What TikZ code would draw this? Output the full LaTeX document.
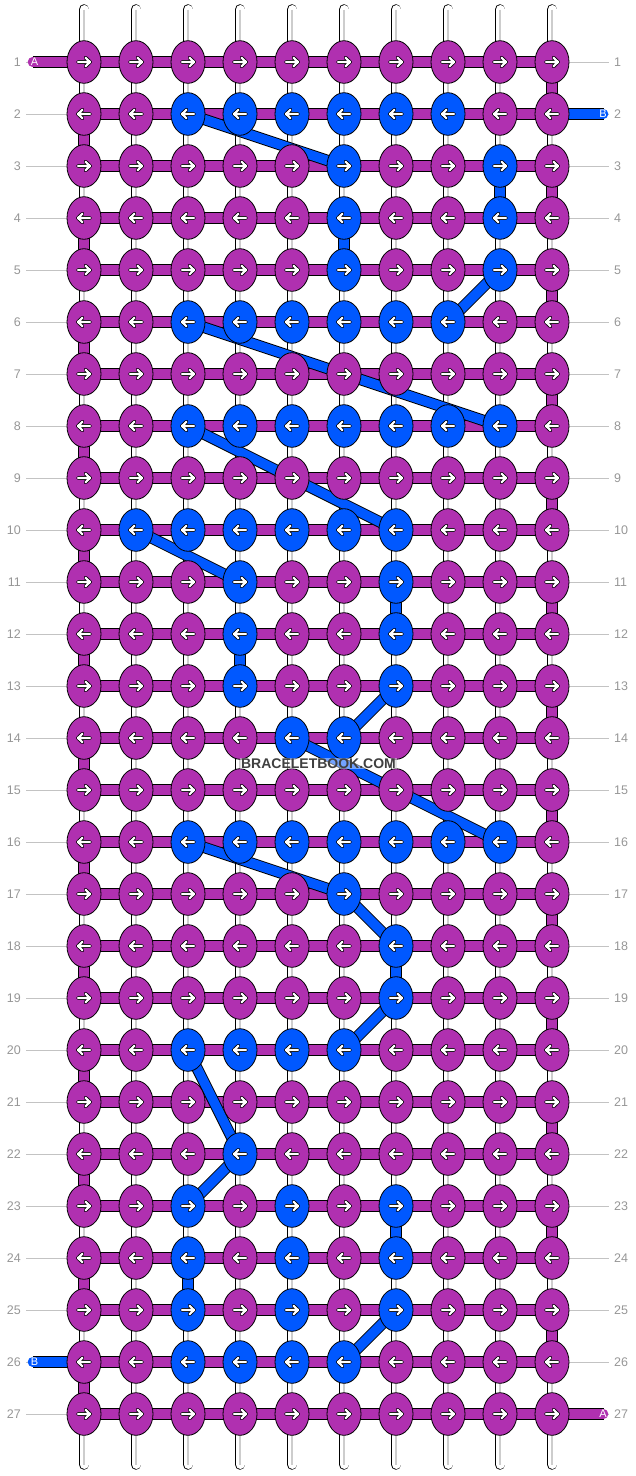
\documentclass[tikz,border=0pt]{standalone}
\usepackage{fontspec}
\setmainfont{Liberation Sans}
\usetikzlibrary{shapes.geometric,backgrounds}

\definecolor{knotP}{RGB}{176,48,176}
\definecolor{knotB}{RGB}{0,88,255}
\definecolor{numgray}{RGB}{150,150,150}
\definecolor{guidegray}{RGB}{195,195,195}
\definecolor{stampgray}{RGB}{64,64,64}
\definecolor{stripe}{RGB}{205,205,205}

% white arrow with black rim at (#1,#2), #3 = 1 (right) or -1 (left)
\newcommand{\knotarrow}[3]{%
  \foreach \w/\col in {3.8/black,2.2/white}
    \draw[draw=\col,line width=\w pt,line cap=round,line join=round]
      ({#1-6*#3},#2) -- ({#1+6*#3},#2)
      ({#1+1.6*#3},{#2-4.2}) -- ({#1+6*#3},#2) -- ({#1+1.6*#3},{#2+4.2});}

\begin{document}
\begin{tikzpicture}[x=1pt,y=-1pt,
  knot/.style={ellipse,draw=black,line width=0.8pt,minimum width=34pt,minimum height=42.6pt,inner sep=0pt},
  rownum/.style={text=numgray,font=\fontsize{12.5}{15}\selectfont,inner ysep=0pt,inner xsep=5pt},
  guide/.style={draw=guidegray,line width=1pt},
  base/.style={draw=white,line width=9pt,line cap=round,
    preaction={draw=black,line width=10.6pt,line cap=round},
    postaction={draw=stripe,line width=2pt,line cap=butt}},
  band/.style={draw=knotP,line width=9.6pt,preaction={draw=black,line width=11.4pt}},
  pill/.style={band,line cap=round},
  endtag/.style={text=white,font=\fontsize{11}{12}\selectfont,inner sep=0pt},
  stamp/.style={text=stampgray,font=\bfseries\fontsize{14}{16}\selectfont,
    fill=white,fill opacity=0.45,text opacity=1,inner sep=0.8pt}]

  \useasboundingbox (0,0) rectangle (636,1476);

  % knots, row by row (P = purple, B = blue)
  \foreach \r/\cols in {
    1/{P,P,P,P,P,P,P,P,P,P},
    2/{P,P,B,B,B,B,B,B,P,P},
    3/{P,P,P,P,P,B,P,P,B,P},
    4/{P,P,P,P,P,B,P,P,B,P},
    5/{P,P,P,P,P,B,P,P,B,P},
    6/{P,P,B,B,B,B,B,B,P,P},
    7/{P,P,P,P,P,P,P,P,P,P},
    8/{P,P,B,B,B,B,B,B,B,P},
    9/{P,P,P,P,P,P,P,P,P,P},
    10/{P,B,B,B,B,B,B,P,P,P},
    11/{P,P,P,B,P,P,B,P,P,P},
    12/{P,P,P,B,P,P,B,P,P,P},
    13/{P,P,P,B,P,P,B,P,P,P},
    14/{P,P,P,P,B,B,P,P,P,P},
    15/{P,P,P,P,P,P,P,P,P,P},
    16/{P,P,B,B,B,B,B,B,B,P},
    17/{P,P,P,P,P,B,P,P,P,P},
    18/{P,P,P,P,P,P,B,P,P,P},
    19/{P,P,P,P,P,P,B,P,P,P},
    20/{P,P,B,B,B,B,P,P,P,P},
    21/{P,P,P,P,P,P,P,P,P,P},
    22/{P,P,P,B,P,P,P,P,P,P},
    23/{P,P,B,P,B,P,B,P,P,P},
    24/{P,P,B,P,B,P,B,P,P,P},
    25/{P,P,B,P,B,P,B,P,P,P},
    26/{P,P,B,B,B,B,P,P,P,P},
    27/{P,P,P,P,P,P,P,P,P,P}}{
    \pgfmathtruncatemacro{\d}{1-2*mod(\r+1,2)}
    \pgfmathsetmacro{\ky}{10+52*\r}
    \foreach \k [count=\c] in \cols {
      \pgfmathsetmacro{\kx}{32+52*\c}
      \node[knot,fill=knot\k] (k-\r-\c) at (\kx,\ky) {};
      \knotarrow{\kx}{\ky}{\d}
    }
    \node[rownum,anchor=east] (ll-\r) at (26,\ky) {\r};
    \node[rownum,anchor=west] (rl-\r) at (609,\ky) {\r};
  }

  % loose ends
  \coordinate (end-1) at (32.5,62);
  \coordinate (end-2) at (603.5,114);
  \coordinate (end-26) at (32.5,1362);
  \coordinate (end-27) at (603.5,1414);
  \node[endtag] (tag-1) at ([xshift=2pt]end-1) {A};
  \node[endtag] (tag-2) at ([xshift=-0.5pt]end-2) {B};
  \node[endtag] (tag-26) at ([xshift=2pt]end-26) {B};
  \node[endtag] (tag-27) at ([xshift=-0.5pt]end-27) {A};

  \node[stamp] (site) at (318.5,763.5) {BRACELETBOOK.COM};

  \begin{scope}[on background layer]
    \foreach \r in {1,...,27}
      \draw[guide] (ll-\r.east) -- (rl-\r.west);
    % base strings
    \foreach \c in {1,...,10}{
      \coordinate (top-\c) at ({32+52*\c},9.5);
      \coordinate (bot-\c) at ({32+52*\c},1464.5);
      \draw[base] (top-\c) -- (bot-\c);
    }
    % turns at the edges
    \foreach \r in {2,4,...,26}{
      \pgfmathtruncatemacro{\s}{\r+1}
      \draw[band] (k-\r-1.center) -- (k-\s-1.center);
    }
    \foreach \r in {1,3,...,25}{
      \pgfmathtruncatemacro{\s}{\r+1}
      \draw[band] (k-\r-10.center) -- (k-\s-10.center);
    }
    % blue string going straight down
    \foreach \r/\c in {3/9,4/6,11/7,12/4,18/7,23/7,24/3}{
      \pgfmathtruncatemacro{\s}{\r+1}
      \draw[band,draw=knotB] (k-\r-\c.center) -- (k-\s-\c.center);
    }
    % rows
    \foreach \r in {1,...,27}
      \draw[band] (k-\r-1.center) -- (k-\r-10.center);
    \draw[pill] (end-1) -- (k-1-1.center);
    \draw[pill,draw=knotB] (k-2-10.center) -- (end-2);
    \draw[pill,draw=knotB] (end-26) -- (k-26-1.center);
    \draw[pill] (k-27-10.center) -- (end-27);
    % blue string jumping between rows
    \foreach \a/\b in {2-3/3-6,5-9/6-8,6-3/8-9,8-3/10-7,10-2/11-4,13-7/14-6,14-5/16-9,
                       16-3/17-6,17-6/18-7,19-7/20-6,20-3/22-4,22-4/23-3,25-7/26-6}
      \draw[band,draw=knotB] (k-\a.center) -- (k-\b.center);
  \end{scope}
\end{tikzpicture}
\end{document}
